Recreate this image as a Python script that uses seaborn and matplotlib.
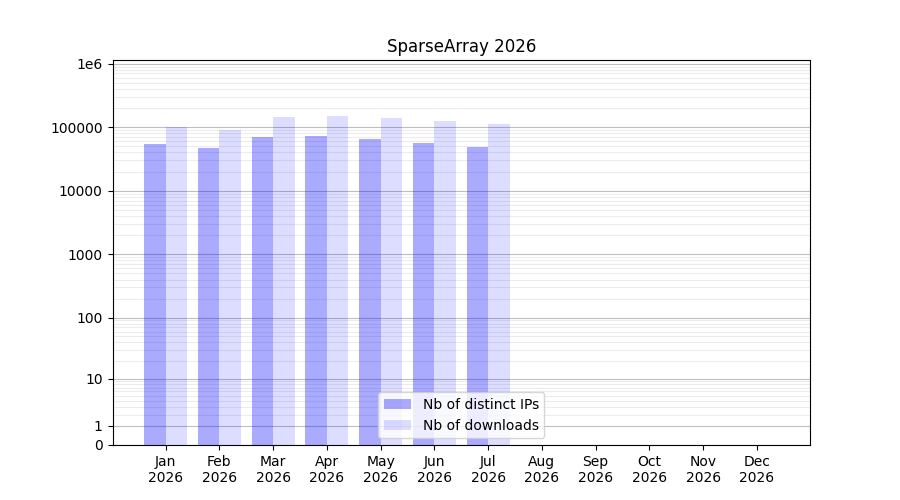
import numpy as np
import pandas as pd
import matplotlib
matplotlib.use("Agg")
import matplotlib.pyplot as plt
import seaborn as sns

months = ["Jan\n2026", "Feb\n2026", "Mar\n2026", "Apr\n2026", "May\n2026", "Jun\n2026",
          "Jul\n2026", "Aug\n2026", "Sep\n2026", "Oct\n2026", "Nov\n2026", "Dec\n2026"]
distinct_ips = [55100, 47600, 71100, 73800, 66200, 57100, 49400, 0, 0, 0, 0, 0]
downloads = [101000, 89600, 142500, 148000, 137000, 123000, 113000, 0, 0, 0, 0, 0]
series_names = ["Nb of distinct IPs", "Nb of downloads"]
ytick_vals = [0, 1, 10, 100, 1000, 10000, 100000, 1000000]
ytick_labels = ["0", "1", "10", "100", "1000", "10000", "100000", "1e6"]
title = "SparseArray 2026"

df = pd.DataFrame({
    "month": months * 2,
    "value": distinct_ips + downloads,
    "series": [series_names[0]] * len(months) + [series_names[1]] * len(months),
})

fig, ax = plt.subplots(figsize=(9, 5), dpi=100)


def fwd(x):
    return np.log10(1 + np.clip(x, 0, None))


def inv(y):
    return 10 ** np.asarray(y) - 1


sns.barplot(data=df, x="month", y="value", hue="series", hue_order=series_names,
            order=months, palette=["blue", "blue"], legend=False, ax=ax,
            saturation=1, width=0.8, linewidth=0)

alphas = [0.333, 0.133]
for cont, a, name in zip(ax.containers, alphas, series_names):
    for p in cont:
        p.set_alpha(a)
    cont.set_label(name)

ax.set_yscale("function", functions=(fwd, inv))
ax.set_ylim(0, 1.14e6)
ax.set_yticks(ytick_vals)
ax.set_yticklabels(ytick_labels)
minor = [k * 10 ** d for d in range(0, 6) for k in range(2, 10)]
ax.set_yticks(minor, minor=True)
ax.tick_params(axis="y", which="minor", length=0)
ax.set_axisbelow(True)
ax.grid(False, axis="x")
ax.grid(True, axis="y", which="major", color="grey", alpha=0.5, linewidth=0.8)
ax.grid(True, axis="y", which="minor", color="grey", alpha=0.15, linewidth=0.8)

ax.set_xlim(-0.99, 11.99)
ax.set_xlabel("")
ax.set_ylabel("")
ax.set_title(title)
ax.legend(handles=list(ax.containers), labels=series_names, loc="lower center")

fig.subplots_adjust(left=0.125, right=0.9, top=0.88, bottom=0.11)
fig.savefig("out.png", dpi=100)
